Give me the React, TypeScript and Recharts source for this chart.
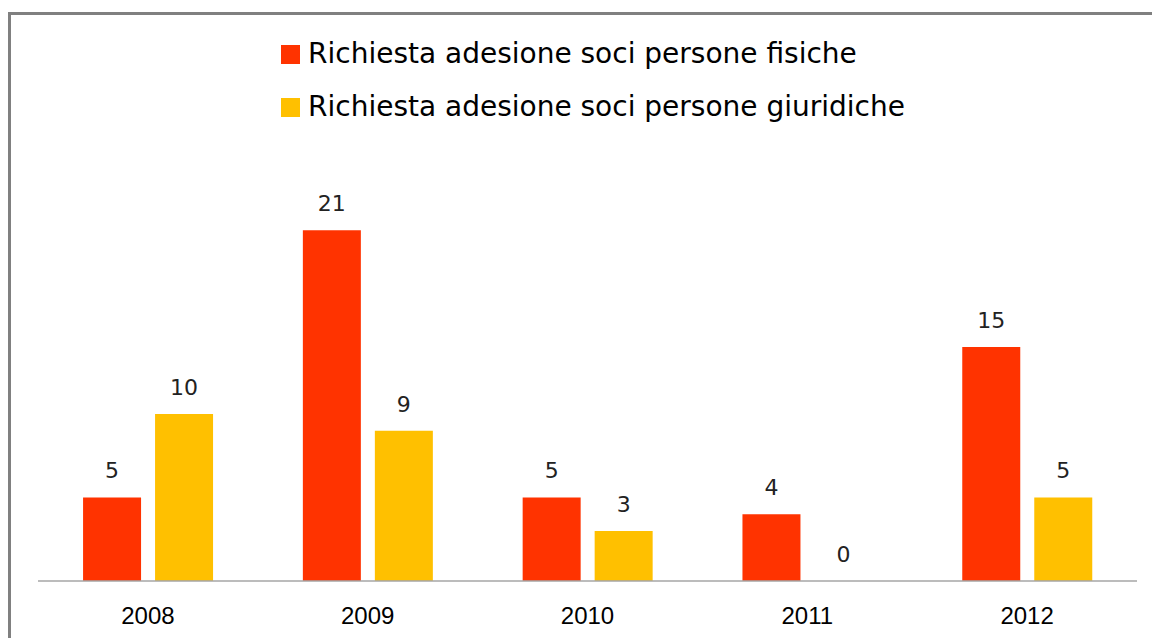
import { BarChart, Bar, XAxis, YAxis, Legend, LabelList } from "recharts";

const years = ["2008", "2009", "2010", "2011", "2012"];
// bar heights as drawn in the picture (the 2012 bar is drawn at 14)
const fisiche = [5, 21, 5, 4, 14];
const giuridiche = [10, 9, 3, 0, 5];
// value labels as printed above the bars
const fisicheLabels = ["5", "21", "5", "4", "15"];
const giuridicheLabels = ["10", "9", "3", "0", "5"];

const seriesNames = [
  "Richiesta adesione soci persone fisiche",
  "Richiesta adesione soci persone giuridiche",
];

const data = years.map((year, i) => ({
  year,
  fisiche: fisiche[i],
  giuridiche: giuridiche[i],
  fisicheLabel: fisicheLabels[i],
  giuridicheLabel: giuridicheLabels[i],
}));

const RED = "#ff3300";
const YELLOW = "#ffc000";
const labelFont = "'DejaVu Sans', Verdana, sans-serif";

function LegendBox({ payload }: any) {
  const items = payload || [];
  return (
    <svg width={1152} height={130} style={{ display: "block" }}>
      {items.map((item: any, i: number) => (
        <g key={item.value}>
          <rect x={281} y={45 + i * 53} width={19} height={19} fill={item.color} />
          <text x={308} y={63 + i * 53} fontFamily={labelFont} fontSize={28} fill="#000">
            {item.value}
          </text>
        </g>
      ))}
    </svg>
  );
}

export default function App() {
  return (
    <div
      style={{
        position: "absolute",
        top: 0,
        left: 0,
        width: 1152,
        height: 638,
        background: "#fff",
        overflow: "hidden",
      }}
    >
      <div
        style={{
          position: "absolute",
          left: 8,
          top: 12,
          width: 1200,
          height: 700,
          borderTop: "3px solid #808080",
          borderLeft: "3px solid #808080",
        }}
      />
      <div style={{ position: "absolute", top: 0, left: 0 }}>
        <BarChart
          width={1152}
          height={638}
          data={data}
          margin={{ top: 50, right: 15, bottom: 27, left: 38 }}
          barCategoryGap="20.5%"
          barGap={14}
        >
          <XAxis
            dataKey="year"
            height={30}
            axisLine={{ stroke: "#a6a6a6", strokeWidth: 1.5 }}
            tickLine={false}
            tickSize={6}
            tickMargin={20}
            tick={{
              fontSize: 24,
              fill: "#000",
              fontFamily: "'Liberation Sans', Arial, sans-serif",
            }}
          />
          <YAxis hide domain={[0, 24]} />
          <Legend
            verticalAlign="top"
            content={<LegendBox />}
            wrapperStyle={{ top: 0, left: 0, width: 1152, height: 130 }}
          />
          <Bar dataKey="fisiche" name={seriesNames[0]} fill={RED} isAnimationActive={false}>
            <LabelList
              dataKey="fisicheLabel"
              position="top"
              offset={19}
              fill="#222"
              fontSize={22}
              fontFamily={labelFont}
            />
          </Bar>
          <Bar
            dataKey="giuridiche"
            name={seriesNames[1]}
            fill={YELLOW}
            minPointSize={0.01}
            isAnimationActive={false}
          >
            <LabelList
              dataKey="giuridicheLabel"
              position="top"
              offset={19}
              fill="#222"
              fontSize={22}
              fontFamily={labelFont}
            />
          </Bar>
        </BarChart>
      </div>
    </div>
  );
}
